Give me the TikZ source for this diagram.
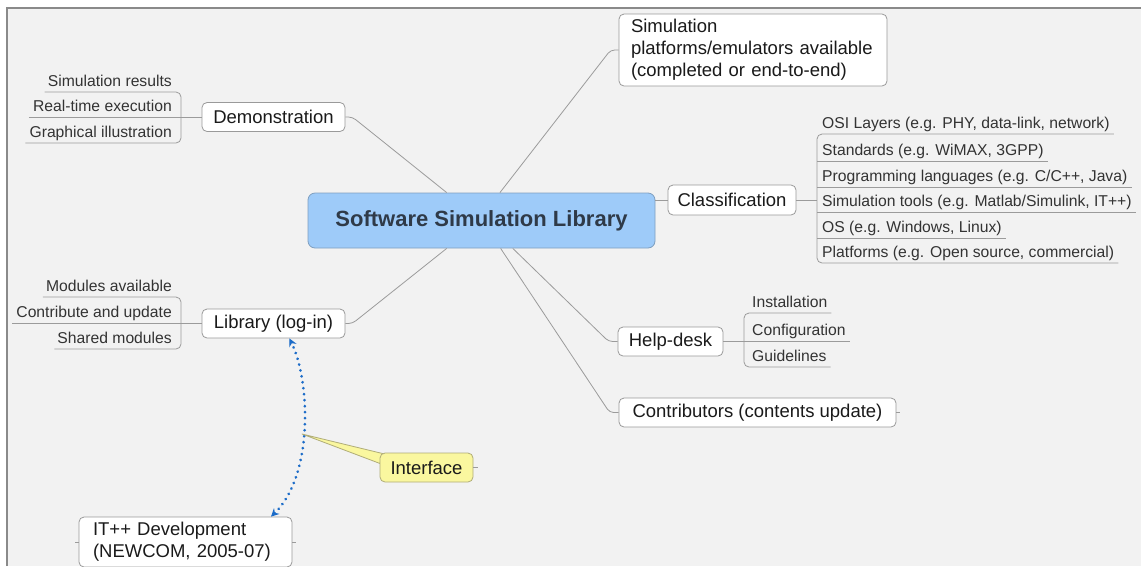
\documentclass[tikz,border=0pt]{standalone}
\usepackage{fontspec}
\setmainfont{Liberation Sans}
\usetikzlibrary{arrows.meta,calc}
\definecolor{bgc}{HTML}{F2F2F2}
\definecolor{framec}{HTML}{8A8A8A}
\definecolor{linec}{HTML}{9B9B9B}
\definecolor{boxc}{HTML}{9A9A9A}
\definecolor{txtc}{HTML}{1A1A1A}
\definecolor{subc}{HTML}{333333}
\definecolor{mainfill}{HTML}{9ECBF9}
\definecolor{maindraw}{HTML}{7F9FBF}
\definecolor{maintext}{HTML}{2F3A48}
\definecolor{yelfill}{HTML}{FAF79F}
\definecolor{yeldraw}{HTML}{B0AD78}
\definecolor{relc}{HTML}{1C6CC8}
\tikzset{
  box/.style={draw=boxc, fill=white, rounded corners=5pt, line width=0.8pt,
    font=\fontsize{18.5}{22}\selectfont, text=txtc, inner sep=0pt, align=center},
  mainbox/.style={draw=maindraw, fill=mainfill, rounded corners=7pt, line width=0.8pt,
    font=\fontsize{22}{26}\selectfont\bfseries, text=maintext, inner sep=0pt},
  yelbox/.style={box, fill=yelfill, draw=yeldraw},
  sub/.style={inner xsep=0pt, inner ysep=0pt, text depth=5pt,
    font=\fontsize{15.7}{18}\selectfont, text=subc},
  conn/.style={draw=linec, line width=0.8pt},
  rel/.style={draw=relc, line width=3pt, line cap=round, dash pattern=on 0.01pt off 6pt,
    {Stealth[length=8pt,width=8pt]}-{Stealth[length=8pt,width=8pt]}}
}
\begin{document}
\begin{tikzpicture}[x=1pt,y=-1pt]
\useasboundingbox (0,0) rectangle (1141,566);
\clip (0,0) rectangle (1141,566);
\fill[white] (0,0) rectangle (1141,566);
\fill[bgc] (7,8) rectangle (1141,566);
\draw[framec, line width=1.5pt] (7,566) -- (7,8) -- (1141,8);

% main node and branches
\node[mainbox, minimum width=347pt, minimum height=55pt] (main) at (481.5,220.5) {Software Simulation Library};
\node[box, minimum width=143pt, minimum height=29pt] (demo) at (273.5,117) {Demonstration};
\node[box, minimum width=143pt, minimum height=29pt] (libr) at (273.5,323.5) {Library (log-in)};
\node[box, minimum width=268pt, minimum height=72pt, text width=244pt, inner xsep=12pt, align=left] (simp) at (753,50)
  {Simulation\\platforms/emulators available\\(completed or end-to-end)};
\node[box, minimum width=128pt, minimum height=30pt] (class) at (732,200) {Classification};
\node[box, minimum width=105pt, minimum height=29pt] (help) at (670.5,341.5) {Help-desk};
\node[box, minimum width=277pt, minimum height=29pt] (contr) at (757.5,412.5) {Contributors (contents update)};
\node[box, minimum width=213pt, minimum height=50pt, text width=185pt, inner xsep=14pt, align=left] (itpp) at (185.5,542)
  {IT++ Development\\(NEWCOM, 2005-07)};

% sub items left
\node[sub, anchor=south east] (d1) at (172,92) {Simulation results};
\node[sub, anchor=south east] (d2) at (172,117) {Real-time execution};
\node[sub, anchor=south east] (d3) at (172,143) {Graphical illustration};
\node[sub, anchor=south east] (l1) at (172,297) {Modules available};
\node[sub, anchor=south east] (l2) at (172,323) {Contribute and update};
\node[sub, anchor=south east] (l3) at (172,349) {Shared modules};
% sub items right
\node[sub, anchor=south west] (c1) at (822,134) {OSI Layers (e.g. PHY, data-link, network)};
\node[sub, anchor=south west] (c2) at (822,161) {Standards (e.g. WiMAX, 3GPP)};
\node[sub, anchor=south west] (c3) at (822,187) {Programming languages (e.g. C/C++, Java)};
\node[sub, anchor=south west] (c4) at (822,212) {Simulation tools (e.g. Matlab/Simulink, IT++)};
\node[sub, anchor=south west] (c5) at (822,238) {OS (e.g. Windows, Linux)};
\node[sub, anchor=south west] (c6) at (822,263) {Platforms (e.g. Open source, commercial)};
\node[sub, anchor=south west] (h1) at (752,313) {Installation};
\node[sub, anchor=south west] (h2) at (752,341) {Configuration};
\node[sub, anchor=south west] (h3) at (752,367) {Guidelines};

% brackets and underlines
\draw[conn, rounded corners=5pt] ([xshift=-3pt]d1.south west) -- ([xshift=9pt]d1.south east)
  -- ([xshift=9pt]d3.south east) -- ([xshift=-4pt]d3.south west);
\draw[conn] ([xshift=-4pt]d2.south west) -- (d2.south -| demo.west);
\draw[conn, rounded corners=5pt] ([xshift=-3pt]l1.south west) -- ([xshift=9pt]l1.south east)
  -- ([xshift=9pt]l3.south east) -- ([xshift=-3pt]l3.south west);
\draw[conn] ([xshift=-4pt]l2.south west) -- (l2.south -| libr.west);

\draw[conn, rounded corners=5pt] ([xshift=4pt]c1.south east) -- ([xshift=-5pt]c1.south west)
  -- ([xshift=-5pt]c6.south west) -- ([xshift=4pt]c6.south east);
\foreach \n in {c2,c3,c4,c5}{\draw[conn] ([xshift=-5pt]\n.south west) -- ([xshift=4pt]\n.south east);}
\coordinate (cb) at ([xshift=-5pt]c1.south west);
\draw[conn] (class.east) -- (class.east -| cb);

\draw[conn, rounded corners=5pt] ([xshift=4pt]h1.south east) -- ([xshift=-8pt]h1.south west)
  -- ([xshift=-8pt]h3.south west) -- ([xshift=4pt]h3.south east);
\draw[conn] (help.east |- h2.south) -- ([xshift=4pt]h2.south east);

% main connectors
\draw[conn, rounded corners=4pt] ($(main.north west)!0.40!(main.north east)$) -- ([xshift=7pt]demo.east) -- (demo.east);
\draw[conn, rounded corners=4pt] ($(main.north west)!0.553!(main.north east)$) -- ([xshift=-8pt]simp.west) -- (simp.west);
\draw[conn] (class.west -| main.east) -- (class.west);
\draw[conn, rounded corners=4pt] ($(main.south west)!0.40!(main.south east)$) -- ([xshift=7pt]libr.east) -- (libr.east);
\draw[conn, rounded corners=4pt] ($(main.south west)!0.59!(main.south east)$) -- ([xshift=-9pt]help.west) -- (help.west);
\draw[conn, rounded corners=4pt] ($(main.south west)!0.555!(main.south east)$) -- ([xshift=-9pt]contr.west) -- (contr.west);

% stubs
\draw[conn] (contr.east) -- ++(4,0);
\draw[conn] (itpp.west) -- ++(-4,0);
\draw[conn] (itpp.east) -- ++(4,0);

% relationship
\draw[rel] ($(itpp.north west)!0.9!(itpp.north east)$) .. controls (314,475) and (310,380) .. ($(libr.south west)!0.61!(libr.south east)$);

% callout
\coordinate (tip) at (302,434);
\coordinate (ifc) at (426.5,467.5);
\draw[yeldraw, fill=yelfill, line width=0.8pt, line join=round] (tip) -- ($(ifc)+(-44,-14)$) -- ($(ifc)+(-46.5,-4)$) -- cycle;
\node[yelbox, minimum width=93pt, minimum height=29pt] (iface) at (ifc) {Interface};
\draw[conn] (iface.east) -- ++(5,0);
\end{tikzpicture}
\end{document}
